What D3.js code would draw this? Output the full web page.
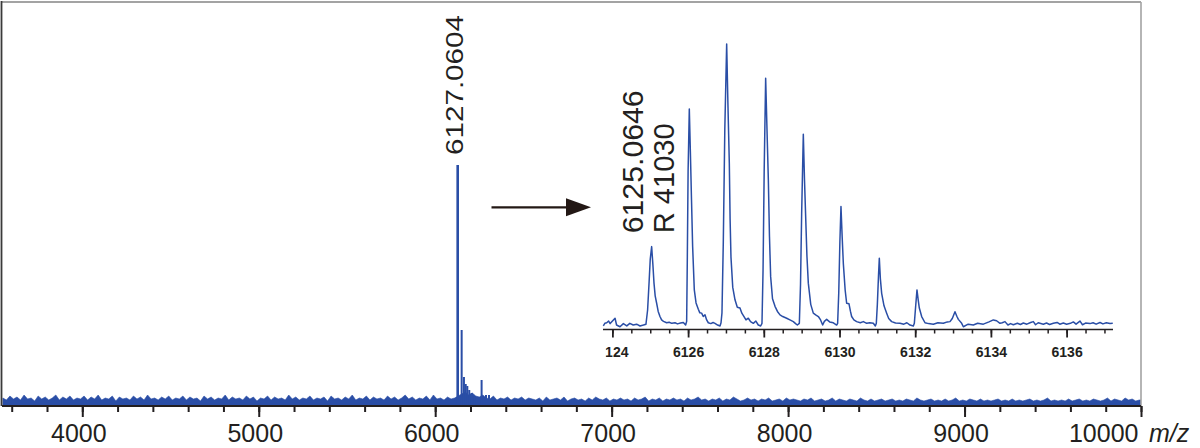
<!DOCTYPE html>
<html>
<head>
<meta charset="utf-8">
<script src="https://cdn.jsdelivr.net/npm/d3@7"></script>
<style>
  html, body { margin: 0; padding: 0; background: #fff; }
  svg { display: block; }
  text { font-family: "Liberation Sans", Arial, Helvetica, sans-serif; fill: #231f20; }
</style>
</head>
<body>
<script>
// ---------------- DATA ----------------
// Main spectrum: baseline noise sampled every 20 m/z from 3550
const noiseStart = 3550;
const noiseStep = 20;
const noise = [
  6,4,8,5,7,4,9,5,6,3,8,5,7,4,6,9,4,7,5,8,4,6,5,8,4,
  7,5,9,4,6,5,8,3,7,5,6,4,8,5,7,4,9,5,6,4,7,5,8,4,6,
  5,8,4,7,5,6,3,8,5,7,4,6,5,9,4,7,5,6,4,8,5,7,3,6,5,
  8,4,7,5,6,4,9,5,7,4,6,5,8,4,6,5,7,3,8,5,6,4,7,5,9,
  4,6,5,8,4,7,5,6,4,8,5,7,4,6,9,5,7,4,6,5,8,4,9,5,6,
  4,7,5,6,8,10,12,9,11,8,7,9,6,5,8,4,6,5,7,4,6,5,7,4,6,
  5,4,6,3,7,4,5,6,4,7,3,5,6,4,5,3,6,4,7,5,4,6,3,5,4,
  6,4,5,3,6,4,5,7,3,5,4,6,3,5,4,6,4,5,3,6,4,5,7,4,5,
  3,5,4,6,3,5,4,7,5,3,4,6,4,5,3,5,4,6,3,4,5,3,6,4,5,
  4,3,5,4,6,3,4,5,3,4,6,3,5,4,3,5,4,3,6,4,3,5,3,4,5,
  3,4,5,3,4,3,5,4,3,6,4,3,4,5,3,4,3,5,3,4,6,3,4,3,5,
  4,3,5,3,4,3,4,5,3,4,3,5,3,4,3,4,5,3,4,3,4,6,3,4,3,
  4,3,5,3,4,5,3,4,3,5,4,3,4,6,3,5,4,3,6,4,5,3,4,4
];
// Main spectrum: peaks (m/z, intensity)
const peakMz  = [6127.5, 6150, 6163, 6173, 6182, 6193, 6207, 6222, 6263, 6288, 6305];
const peakInt = [239, 74, 27, 20, 18, 14, 11, 8, 24, 9, 9];
const mainPeakLabel = "6127.0604";
const mainPeakMz = 6127.5;

// Main axis ticks
const majorTicks = [4000, 5000, 6000, 7000, 8000, 9000, 10000];
const minorTicks = d3.range(3600, 10001, 200);
const axisUnit = "m/z";

// Inset: isotope-resolved trace (m/z, relative intensity %)
const insetTrace = [
  [6123.76,0.4],[6123.80,1.3],[6123.85,1.5],[6123.90,2.1],[6123.94,1.2],[6124.07,3.1],[6124.11,0.7],
  [6124.20,0.1],[6124.29,1.2],[6124.38,0.4],[6124.46,1.3],[6124.55,0.7],[6124.64,1.0],[6124.73,0.35],
  [6124.82,0.7],[6124.887,1.0],
  [6124.93,6],[6124.97,16],[6125.00,24],[6125.037,28.4],[6125.07,22],[6125.099,15.5],[6125.13,11],
  [6125.169,8.4],[6125.21,5.5],[6125.257,3.7],[6125.30,2.5],[6125.35,2.0],[6125.433,1.5],[6125.50,1.7],
  [6125.57,1.3],[6125.654,1.5],[6125.72,1.1],[6125.80,1.4],[6125.874,1.6],[6125.935,0.7],
  [6125.962,2],[6125.98,25],[6126.00,55],[6126.032,77],[6126.06,62],[6126.09,45],[6126.12,28.4],
  [6126.164,13.1],[6126.21,8.5],[6126.27,6.3],[6126.31,5.0],[6126.358,4.9],[6126.40,3.7],[6126.446,4.3],
  [6126.49,2.5],[6126.534,1.5],[6126.60,1.2],[6126.66,1.6],[6126.71,1.3],[6126.78,0.7],[6126.843,0.35],
  [6126.87,1.5],[6126.895,5],[6126.93,30],[6126.97,70],[6127.019,100],[6127.05,80],[6127.089,57.9],
  [6127.11,38],[6127.133,24.6],[6127.18,14],[6127.239,9.6],[6127.30,7.0],[6127.371,6.7],[6127.42,4.9],
  [6127.477,3.7],[6127.53,2.5],[6127.591,3.1],[6127.65,1.9],[6127.723,1.3],[6127.79,2.1],[6127.855,0.7],
  [6127.917,0.35],
  [6127.952,1.3],[6127.98,20],[6128.01,55],[6128.049,87.9],[6128.08,72],[6128.12,52],[6128.15,32],
  [6128.181,17.8],[6128.23,10],[6128.296,7.3],[6128.36,5.5],[6128.428,4.3],[6128.50,3.7],[6128.604,3.1],
  [6128.69,2.5],[6128.780,1.9],[6128.84,1.2],[6128.886,0.7],
  [6128.939,1.3],[6128.97,15],[6129.00,40],[6129.044,68.1],[6129.075,52],[6129.106,39],[6129.14,25],
  [6129.176,15.5],[6129.24,8],[6129.308,4.9],[6129.37,4.3],[6129.441,3.7],[6129.50,2.5],[6129.555,0.7],
  [6129.60,2.0],[6129.661,2.7],[6129.74,1.8],[6129.837,1.5],[6129.925,0.7],
  [6129.951,1.3],[6129.98,12],[6130.01,30],[6130.039,42.6],[6130.07,32],[6130.101,22.5],[6130.15,13],
  [6130.189,8.4],[6130.251,8.2],[6130.29,5.5],[6130.321,3.7],[6130.38,2.5],[6130.453,1.9],[6130.55,1.5],
  [6130.63,1.9],[6130.718,1.3],[6130.80,1.5],[6130.894,1.3],[6130.947,0.35],
  [6130.973,1.3],[6131.00,8],[6131.03,18],[6131.052,24.3],[6131.08,17],[6131.114,11.9],[6131.176,7.5],
  [6131.246,4.9],[6131.30,3.0],[6131.378,1.9],[6131.48,1.4],[6131.598,1.3],[6131.70,1.0],[6131.78,1.5],
  [6131.863,0.7],[6131.951,0.35],
  [6131.977,1.3],[6132.01,7],[6132.047,13.1],[6132.08,9.5],[6132.109,6.7],[6132.171,3.7],[6132.259,1.5],
  [6132.35,1.2],[6132.479,1.0],[6132.60,1.5],[6132.743,1.3],[6132.85,1.8],
  [6132.919,1.9],[6132.98,3],[6133.051,5.4],[6133.10,3.8],[6133.140,2.7],[6133.228,1.3],[6133.272,0.1],
  [6133.40,1.0],[6133.536,0.7],[6133.65,1.3],[6133.80,1.0],[6133.95,1.8],[6134.064,2.5],[6134.15,2.2],
  [6134.240,1.3],[6134.30,1.5],[6134.372,1.9],[6134.45,0.7],[6134.52,1.2],[6134.593,0.8],[6134.70,1.3],
  [6134.78,0.9],[6134.857,1.4],[6134.95,1.0],[6135.05,1.6],[6135.121,1.9],[6135.18,0.8],[6135.25,1.5],
  [6135.385,1.0],[6135.47,1.4],[6135.55,0.9],[6135.650,1.3],[6135.75,1.6],[6135.82,1.0],[6135.914,1.4],
  [6136.00,1.0],[6136.10,1.3],[6136.178,1.8],[6136.25,1.0],[6136.354,2.1],[6136.42,0.8],[6136.50,1.4],
  [6136.618,1.2],[6136.70,1.5],[6136.78,1.0],[6136.883,1.6],[6136.96,1.1],[6137.05,1.5],[6137.147,1.2],
  [6137.22,1.3]
];
const insetMajorTicks = [6124, 6126, 6128, 6130, 6132, 6134, 6136];
const insetMinorTicks = d3.range(6124, 6137.01, 0.5);
const insetLabel1 = "6125.0646";
const insetLabel2 = "R 41030";
const insetLabelMz = 6125.037;

// ---------------- LAYOUT ----------------
const W = 1200, H = 448;
const blue = "#2a4ea6";
const ink = "#231f20";

const svg = d3.select("body").append("svg").attr("width", W).attr("height", H);

const plotL = 2, plotR = 1141, plotT = 2, axisY = 406;
const x = d3.scaleLinear().domain([3545, 10000]).range([plotL, plotR]);
const y = d3.scaleLinear().domain([0, 400]).range([404, 4]);

svg.append("clipPath").attr("id", "mainClip")
  .append("rect").attr("x", plotL).attr("y", 0).attr("width", plotR - plotL).attr("height", axisY);

const g = svg.append("g").attr("clip-path", "url(#mainClip)");

const noiseData = noise.map((v, i) => ({ mz: noiseStart + i * noiseStep, v }));
g.append("path")
  .datum(noiseData)
  .attr("fill", blue)
  .attr("stroke", blue)
  .attr("stroke-width", 0.6)
  .attr("d", d3.area().x(d => x(d.mz)).y0(y(0) + 2).y1(d => y(d.v)));

g.selectAll("line.peak")
  .data(peakMz.map((m, i) => ({ m, v: peakInt[i] })))
  .join("line")
  .attr("class", "peak")
  .attr("x1", d => x(d.m)).attr("x2", d => x(d.m))
  .attr("y1", y(0) + 2).attr("y2", d => y(d.v))
  .attr("stroke", blue)
  .attr("stroke-width", (d, i) => i === 0 ? 2.6 : 2);

// frame
svg.append("line").attr("x1", plotL).attr("x2", plotR).attr("y1", plotT).attr("y2", plotT)
  .attr("stroke", "#a3a3a3").attr("stroke-width", 2);
svg.append("line").attr("x1", plotR).attr("x2", plotR).attr("y1", plotT).attr("y2", axisY)
  .attr("stroke", "#a3a3a3").attr("stroke-width", 1.6);
svg.append("line").attr("x1", 1.5).attr("x2", 1.5).attr("y1", plotT - 1).attr("y2", axisY)
  .attr("stroke", "#3a3a3a").attr("stroke-width", 1.8);

// main axis
const minorAxis = d3.axisBottom(x).tickValues(minorTicks).tickSize(6).tickFormat("").tickSizeOuter(0);
const gMinor = svg.append("g").attr("transform", `translate(0,${axisY})`).call(minorAxis);
gMinor.select(".domain").attr("stroke", ink).attr("stroke-width", 2).attr("d", `M${plotL},0H${plotR}`);
gMinor.selectAll(".tick line").attr("stroke", ink).attr("stroke-width", 2);

const majorAxis = d3.axisBottom(x).tickValues(majorTicks).tickSize(11).tickSizeOuter(0)
  .tickFormat(d3.format("d"));
const gMajor = svg.append("g").attr("transform", `translate(0,${axisY})`).call(majorAxis);
gMajor.select(".domain").remove();
gMajor.selectAll(".tick line").attr("stroke", ink).attr("stroke-width", 2);
gMajor.selectAll(".tick text")
  .attr("y", 35.5).attr("dy", 0)
  .attr("dx", d => d === 10000 ? 0 : -4)
  .attr("x", d => d === 10000 ? -3 : 0)
  .attr("text-anchor", d => d === 10000 ? "end" : "middle")
  .attr("font-size", 25)
  .attr("font-family", "'Liberation Sans', Arial, Helvetica, sans-serif")
  .attr("fill", ink);

svg.append("text").attr("x", 1149).attr("y", axisY + 35.5)
  .attr("font-size", 25).attr("font-style", "italic").text(axisUnit);

// main peak label
svg.append("text")
  .attr("transform", `translate(${x(mainPeakMz) + 5.8},155) rotate(-90)`)
  .attr("font-size", 24)
  .attr("textLength", 140).attr("lengthAdjust", "spacingAndGlyphs")
  .text(mainPeakLabel);

// arrow
svg.append("line").attr("x1", 491.5).attr("x2", 568).attr("y1", 207.3).attr("y2", 207.3)
  .attr("stroke", "#231815").attr("stroke-width", 2.2);
svg.append("path").attr("d", "M566,198.3L591,207.3L566,216.3Z").attr("fill", "#231815");

// ---------------- INSET ----------------
const insetL = 603, insetR = 1113, insetAxisY = 329.5;
const xi = d3.scaleLinear().domain([6124, 6136]).range([612.4, 1066.6]);
const yi = d3.scaleLinear().domain([0, 100]).range([327, 44]);

svg.append("path")
  .datum(insetTrace)
  .attr("fill", "none")
  .attr("stroke", blue)
  .attr("stroke-width", 1.5)
  .attr("stroke-linejoin", "round")
  .attr("d", d3.line().x(d => xi(d[0])).y(d => yi(d[1])));

svg.append("clipPath").attr("id", "insetClip")
  .append("rect").attr("x", insetL + 2.5).attr("y", insetAxisY - 2).attr("width", insetR - insetL + 4).attr("height", 40);

const gi = svg.append("g").attr("transform", `translate(0,${insetAxisY})`);
const iMinor = d3.axisBottom(xi).tickValues(insetMinorTicks).tickSize(4).tickFormat("").tickSizeOuter(0);
gi.call(iMinor);
gi.select(".domain").attr("stroke", ink).attr("stroke-width", 1.6).attr("d", `M${insetL},0H${insetR}`);
gi.selectAll(".tick line").attr("stroke", ink).attr("stroke-width", 1.5);

const gi2 = svg.append("g").attr("clip-path", "url(#insetClip)")
  .append("g").attr("transform", `translate(0,${insetAxisY})`);
const iMajor = d3.axisBottom(xi).tickValues(insetMajorTicks).tickSize(8).tickSizeOuter(0)
  .tickFormat(d3.format("d"));
gi2.call(iMajor);
gi2.select(".domain").remove();
gi2.selectAll(".tick line").attr("stroke", ink).attr("stroke-width", 1.8);
gi2.selectAll(".tick text")
  .attr("y", 27.5).attr("dy", 0)
  .attr("font-size", 14).attr("font-weight", "bold")
  .attr("font-family", "'Liberation Sans', Arial, Helvetica, sans-serif")
  .attr("fill", ink);

// inset labels
svg.append("text")
  .attr("transform", `translate(${xi(insetLabelMz) - 9},233.3) rotate(-90)`)
  .attr("font-size", 29)
  .attr("textLength", 143).attr("lengthAdjust", "spacingAndGlyphs")
  .text(insetLabel1);
svg.append("text")
  .attr("transform", `translate(${xi(insetLabelMz) + 22.3},233.3) rotate(-90)`)
  .attr("font-size", 29)
  .attr("textLength", 110).attr("lengthAdjust", "spacingAndGlyphs")
  .text(insetLabel2);
</script>
</body>
</html>
